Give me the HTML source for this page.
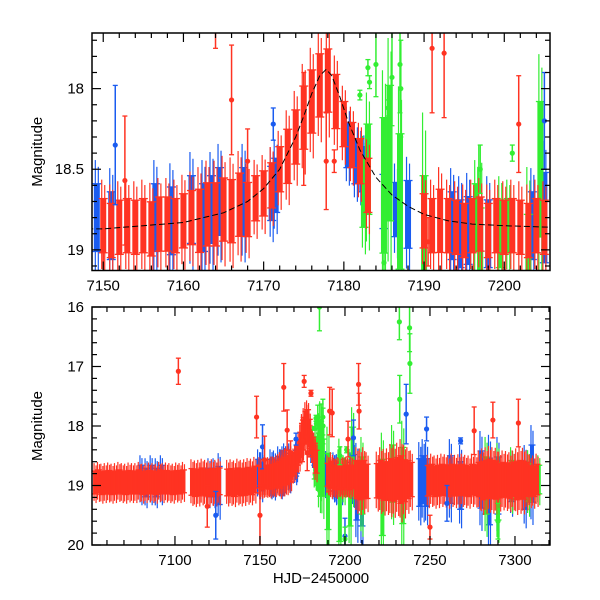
<!DOCTYPE html>
<html><head><meta charset="utf-8"><style>
body{margin:0;background:#fff}
svg{display:block;font-family:"Liberation Sans",sans-serif}
</style></head><body>
<svg id="c" width="600" height="600" viewBox="0 0 600 600"></svg>
<script>
// ---- data: nightly clusters [time], [mag], [half-spread] ----
const redT=[7053,7055,7057,7059,7061,7063,7065,7067,7069,7071,7073,7075,7077,7079,7081,7083,7085,7087,7089,7091,7093,7095,7097,7099,7101,7103,7105,7110,7112,7114,7116,7118,7120,7122,7124,7126,7131,7133,7135,7137,7139,7141,7143,7145,7147,
7150,7151,7152,7153,7154,7155,7156,7157,7158,7159,7160,7161,7162,7163,7164,7165,7166,7167,7168,7169,7170,7171,7172,7173,7174,7175,7176,7177,7178,7179,7180,7181,7182,7183,
7190,7191,7192,7193,7194,7195,7196,7197,7198,7199,7200,7201,7202,7203,7204,7205,
7207,7209,7211,7213,7219,7221,7223,7225,7227,7229,7231,7233,7235,7237,7239,7249,7251,7253,7255,7257,7259,7261,7263,7265,7267,7269,7271,7273,7275,7277,7279,7281,7283,7285,7287,7289,7291,7293,7295,7297,7299,7301,7303,7305,7307,7309,7311,7313];
const redM=[18.95,18.93,18.96,18.95,18.94,18.96,18.95,18.93,18.95,18.96,18.94,18.95,18.95,18.93,18.96,18.95,18.94,18.95,18.96,18.93,18.95,18.94,18.95,18.96,18.94,18.95,18.93,18.94,18.96,18.95,18.93,18.95,18.96,18.94,18.95,18.93,18.95,18.94,18.96,18.93,18.95,18.94,18.92,18.93,18.9,
18.85,18.88,18.86,18.85,18.86,18.85,18.87,18.84,18.84,18.85,18.82,18.8,18.82,18.78,18.78,18.75,18.76,18.72,18.75,18.68,18.65,18.6,18.5,18.42,18.3,18.18,18.08,17.98,17.95,18.08,18.22,18.35,18.45,18.6,
18.82,18.85,18.82,18.85,18.86,18.88,18.85,18.84,18.88,18.85,18.86,18.85,18.86,18.88,18.85,18.86,
18.9,18.92,18.9,18.93,18.92,18.9,18.93,18.92,18.9,18.91,18.88,18.9,18.92,18.9,18.9,18.92,18.9,18.93,18.92,18.9,18.91,18.93,18.9,18.92,18.91,18.9,18.92,18.93,18.9,18.91,18.9,18.92,18.9,18.88,18.9,18.91,18.92,18.9,18.91,18.93,18.9,18.92,18.9,18.91,18.9,18.92,18.93,18.9];
const redS=[0.12,0.12,0.12,0.12,0.12,0.12,0.12,0.12,0.12,0.12,0.12,0.12,0.12,0.12,0.12,0.12,0.12,0.12,0.12,0.12,0.12,0.12,0.12,0.12,0.12,0.12,0.12,0.14,0.14,0.14,0.14,0.14,0.14,0.14,0.14,0.14,0.14,0.14,0.14,0.14,0.14,0.14,0.14,0.14,0.14,
0.12,0.12,0.12,0.12,0.12,0.12,0.12,0.12,0.12,0.12,0.12,0.12,0.14,0.14,0.14,0.14,0.14,0.14,0.12,0.1,0.1,0.1,0.1,0.12,0.12,0.14,0.14,0.14,0.14,0.12,0.1,0.1,0.1,0.12,
0.12,0.12,0.14,0.12,0.12,0.12,0.12,0.12,0.12,0.12,0.12,0.12,0.12,0.12,0.12,0.12,
0.2,0.2,0.2,0.18,0.18,0.2,0.2,0.2,0.22,0.22,0.22,0.25,0.22,0.2,0.18,0.16,0.16,0.16,0.16,0.16,0.16,0.16,0.16,0.16,0.16,0.16,0.16,0.16,0.16,0.16,0.18,0.2,0.2,0.2,0.2,0.2,0.18,0.18,0.18,0.18,0.18,0.2,0.2,0.2,0.18,0.16,0.16,0.16];
const blueT=[7080,7083,7086,7089,7092,7120,7123,7126,7149.2,7151,7156.5,7158.5,7161,7162.5,7163.5,7164.5,7167.5,7171,7171.5,7180.5,7181.5,7182.3,7185,7186.5,7188,7193.5,7194.5,7195.5,7198,7203.5,7205,7207,7210,7244,7246,7248,7262,7268,7280,7285,7290,7298,7306,7310];
const blueM=[18.9,18.95,18.9,18.95,18.9,18.95,18.95,19.0,18.8,18.85,18.8,18.82,18.75,18.8,18.75,18.7,18.7,18.65,18.6,18.35,18.45,18.5,18.7,18.75,18.78,18.85,18.9,18.88,18.9,18.85,18.8,19.1,19.2,18.95,18.9,18.95,18.9,19.0,18.9,19.1,19.0,18.95,19.0,18.8];
const blueS=[0.15,0.15,0.15,0.15,0.15,0.15,0.15,0.2,0.15,0.15,0.15,0.15,0.15,0.15,0.15,0.15,0.15,0.12,0.12,0.1,0.1,0.1,0.12,0.12,0.15,0.15,0.15,0.15,0.15,0.15,0.2,0.3,0.3,0.25,0.25,0.25,0.25,0.25,0.3,0.35,0.3,0.2,0.25,0.3];
const greenT=[7182.5,7183,7185,7185.7,7187,7196.5,7199.5,7200.5,7204.5,7190,7197,7203,7210,7222,7228,7234,7283,7290,7298,7308,7314];
const greenM=[18.65,18.5,18.6,18.4,18.7,18.8,18.9,18.85,18.5,19.1,19.3,19.2,19.0,19.2,18.8,19.0,19.0,19.1,18.9,18.95,18.9];
const greenS=[0.15,0.2,0.3,0.3,0.3,0.15,0.15,0.12,0.3,0.4,0.4,0.3,0.3,0.4,0.3,0.4,0.3,0.3,0.2,0.2,0.15];
// outliers: time, mag, error
const redOT=[7152.7,7166,7168,7175,7177.8,7178.8,7192.5,7201.8,7190.5,7102,7148,7164,7176,7180,7191,7208,7208.3,7302,7276,7287,7150,7119,7250];
const redOM=[18.57,18.07,18.45,18.25,18.45,18.45,17.78,18.22,18.95,17.08,17.85,17.35,17.25,17.45,17.75,17.3,17.75,17.95,18.08,17.9,19.5,19.35,19.7];
const redOE=[0.4,0.34,0.2,0.35,0.3,0.07,0.4,0.3,0.15,0.22,0.35,0.4,0.1,0.05,0.4,0.35,0.3,0.4,0.4,0.3,0.5,0.35,0.2];
const blueOT=[7151.5,7171.2,7205,7236,7248,7268,7124,7200,7260];
const blueOM=[18.35,18.22,18.2,17.8,18.05,18.25,19.5,19.85,19.3];
const blueOE=[0.37,0.1,0.3,0.5,0.2,0.05,0.4,0.3,0.3];
const greenOT=[7183,7183.2,7182,7185.5,7186,7187,7187.1,7201,7197,7185,7185,7232,7238,7238.2,7232.2,7184,7200,7290];
const greenOM=[17.87,17.96,18.04,18.12,17.93,17.85,18.0,18.4,18.5,19.08,16.0,16.25,16.35,16.95,17.55,17.85,19.9,19.6];
const greenOE=[0.05,0.04,0.03,0.05,0.3,0.3,0.3,0.05,0.15,0.1,0.4,0.3,0.4,0.5,0.4,0.2,0.2,0.3];
// model curve
const modT=[7148,7150,7155,7160,7165,7168,7170,7172,7174,7175,7176,7177,7177.8,7178.5,7179.5,7180.5,7182,7184,7186,7188,7190,7193,7196,7200,7206];
const modM=[18.87,18.87,18.85,18.83,18.77,18.7,18.62,18.5,18.3,18.17,18.03,17.92,17.88,17.92,18.05,18.2,18.38,18.55,18.66,18.73,18.78,18.82,18.84,18.85,18.86];

const NS="http://www.w3.org/2000/svg";
const svg=document.getElementById('c');
function el(tag,attrs,parent){const e=document.createElementNS(NS,tag);for(const k in attrs)e.setAttribute(k,attrs[k]);(parent||svg).appendChild(e);return e;}
const COL={red:'#ff3322',blue:'#1a5cf0',green:'#33ee33'};

function panel(cfg){
  const {x0,x1,y0,y1,px0,px1,py0,py1,name,sm}=cfg;
  const X=t=>px0+(t-x0)/(x1-x0)*(px1-px0);
  const Y=m=>py0+(m-y0)/(y1-y0)*(py1-py0);
  const g=el('g',{});
  
  
  const cid='clip-'+name;
  const cp=el('clipPath',{id:cid},g);el('rect',{x:px0,y:py0,width:px1-px0,height:py1-py0},cp);
  const plot=el('g',{'clip-path':'url(#'+cid+')'},g);
  
  
  function clusters(T,M,S,c,w){
    const gg=el('g',{},plot);
    
    
    for(let i=0;i<T.length;i++){
      if(T[i]<x0-1||T[i]>x1+1)continue;
      const s=S[i]*sm;
      const x=X(T[i]),ya=Y(M[i]-s),yb=Y(M[i]+s);
      const r=el('rect',{x:x-w/2,y:ya,width:w,height:yb-ya,fill:COL[c]},gg);
      
      
      el('line',{x1:x-w/2-1.5,x2:x+w/2+1.5,y1:ya,y2:ya,stroke:COL[c],'stroke-width':1.3},gg);
      el('line',{x1:x-w/2-1.5,x2:x+w/2+1.5,y1:yb,y2:yb,stroke:COL[c],'stroke-width':1.3},gg);
      el('line',{x1:x-w/4,x2:x-w/4,y1:ya-(yb-ya)*0.35,y2:yb+(yb-ya)*0.3,stroke:COL[c],'stroke-width':1.2},gg);
      el('line',{x1:x+w/4,x2:x+w/4,y1:ya-(yb-ya)*0.25,y2:yb+(yb-ya)*0.4,stroke:COL[c],'stroke-width':1.2},gg);
    }
  }
  function outl(T,M,E,c){
    const gg=el('g',{},plot);
    
    
    for(let i=0;i<T.length;i++){
      if(T[i]<x0||T[i]>x1)continue;
      const x=X(T[i]),y=Y(M[i]),ya=Y(M[i]-E[i]),yb=Y(M[i]+E[i]);
      el('line',{x1:x,x2:x,y1:ya,y2:yb,stroke:COL[c],'stroke-width':1.5},gg);
      el('line',{x1:x-2.5,x2:x+2.5,y1:ya,y2:ya,stroke:COL[c],'stroke-width':1.3},gg);
      el('line',{x1:x-2.5,x2:x+2.5,y1:yb,y2:yb,stroke:COL[c],'stroke-width':1.3},gg);
      const d=el('circle',{cx:x,cy:y,r:2.6,fill:COL[c]},gg);
      
      
    }
  }
  const w=cfg.w;
  clusters(blueT,blueM,blueS,'blue',w);
  clusters(greenT,greenM,greenS,'green',w);
  clusters(redT,redM,redS,'red',w);
  outl(blueOT,blueOM,blueOE,'blue');
  outl(greenOT,greenOM,greenOE,'green');
  outl(redOT,redOM,redOE,'red');
  if(cfg.model){
    const pts=modT.map((t,i)=>X(t).toFixed(1)+','+Y(modM[i]).toFixed(1)).join(' ');
    const pl=el('polyline',{points:pts,fill:'none',stroke:'#000','stroke-width':1,'stroke-dasharray':'6,3'},plot);
    
    
  }
  const fr=el('rect',{x:px0,y:py0,width:px1-px0,height:py1-py0,fill:'none',stroke:'#000','stroke-width':1.5},g);
  
  
  const xt=el('g',{},g);
  
  
  for(let t=Math.ceil(x0/cfg.xmin)*cfg.xmin;t<=x1;t+=cfg.xmin){
    const major=Math.abs(t/cfg.xmaj-Math.round(t/cfg.xmaj))<1e-6;
    const L=major?9:5,x=X(t);
    el('line',{x1:x,x2:x,y1:py1,y2:py1-L,stroke:'#000','stroke-width':1.2},xt);
    el('line',{x1:x,x2:x,y1:py0,y2:py0+L,stroke:'#000','stroke-width':1.2},xt);
    if(major){const tx=el('text',{x:x,y:py1+20,'text-anchor':'middle','font-size':15},xt);tx.textContent=t;
      
      }
  }
  const yt=el('g',{},g);
  
  
  for(let k=Math.ceil(y0/cfg.ymin-1e-6);k*cfg.ymin<=y1+1e-6;k++){
    const m=k*cfg.ymin;
    const major=Math.abs(m/cfg.ymaj-Math.round(m/cfg.ymaj))<1e-6;
    const L=major?9:5,y=Y(m);
    el('line',{x1:px0,x2:px0+L,y1:y,y2:y,stroke:'#000','stroke-width':1.2},yt);
    el('line',{x1:px1,x2:px1-L,y1:y,y2:y,stroke:'#000','stroke-width':1.2},yt);
    if(major){const tx=el('text',{x:px0-8,y:y+5,'text-anchor':'end','font-size':15},yt);tx.textContent=+m.toFixed(1);
      
      }
  }
  const yl=el('text',{x:0,y:0,transform:'translate(42,'+((py0+py1)/2)+') rotate(-90)','text-anchor':'middle','font-size':15},g);
  yl.textContent='Magnitude';
  
  
}
panel({name:'zoom-panel',x0:7148.6,x1:7205.7,y0:17.655,y1:19.128,px0:92,px1:550,py0:33,py1:270.5,xmaj:10,xmin:2,ymaj:0.5,ymin:0.1,w:6,sm:1.4,model:true});
panel({name:'full-panel',x0:7051.2,x1:7320.6,y0:16,y1:20,px0:92,px1:550,py0:307,py1:545,xmaj:50,xmin:10,ymaj:1,ymin:0.2,w:4,sm:1.6,model:false});
const xl=el('text',{x:321,y:583,'text-anchor':'middle','font-size':15});
xl.textContent='HJD−2450000';


</script>
</body></html>
